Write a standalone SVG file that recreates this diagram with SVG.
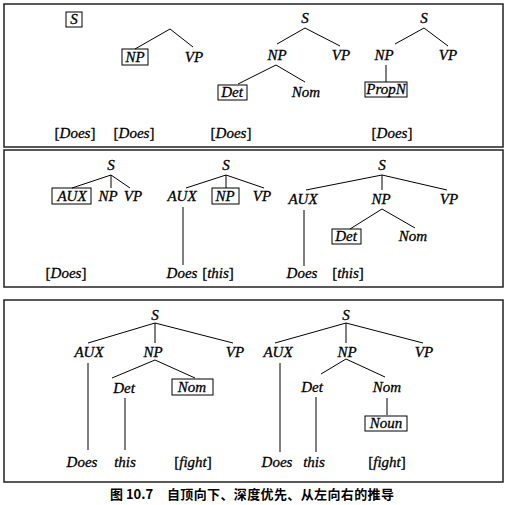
<svg xmlns="http://www.w3.org/2000/svg" width="509" height="505" viewBox="0 0 509 505">
<style>
.t{font-family:"Liberation Serif","Times New Roman",serif;font-style:italic;font-size:15px;fill:#000;stroke:#000;stroke-width:0.3;text-anchor:middle}
.r{font-style:normal}
.b{fill:none;stroke:#000;stroke-width:1}
.p{fill:none;stroke:#222;stroke-width:1.5}
.c line{stroke:#000;stroke-width:1}
.cap{font-family:"Noto Sans CJK SC","Noto Sans CJK TC",sans-serif;font-size:13px;font-weight:bold;fill:#000}
</style>
<rect width="509" height="505" fill="#fff"/>
<g id="panels">
<rect class="p" x="4" y="4" width="499" height="143"/>
<rect class="p" x="4" y="150" width="499" height="137"/>
<rect class="p" x="4" y="300" width="499" height="182"/>
</g>
<g id="connectors" class="c">
<line x1="170" y1="29" x2="135" y2="49"/><line x1="170" y1="29" x2="193" y2="47"/>
<line x1="305" y1="28" x2="277" y2="44"/><line x1="305" y1="28" x2="340" y2="46"/>
<line x1="276" y1="65" x2="238" y2="84"/><line x1="276" y1="65" x2="305" y2="82"/>
<line x1="424" y1="28" x2="395" y2="44"/><line x1="424" y1="28" x2="448" y2="46"/>
<line x1="386" y1="65" x2="386" y2="82"/>
<line x1="111" y1="175" x2="72" y2="188"/><line x1="111" y1="175" x2="111" y2="188"/><line x1="111" y1="175" x2="130" y2="188"/>
<line x1="226" y1="175" x2="186" y2="188"/><line x1="226" y1="175" x2="226" y2="188"/><line x1="226" y1="175" x2="264" y2="188"/>
<line x1="183" y1="207" x2="183" y2="265"/>
<line x1="382" y1="175" x2="306" y2="190"/><line x1="382" y1="175" x2="382" y2="190"/><line x1="382" y1="175" x2="447" y2="190"/>
<line x1="382" y1="209" x2="350" y2="229"/><line x1="382" y1="209" x2="415" y2="228"/>
<line x1="304" y1="210" x2="304" y2="266"/>
<line x1="155" y1="323" x2="88" y2="343"/><line x1="155" y1="323" x2="155" y2="343"/><line x1="155" y1="323" x2="233" y2="343"/>
<line x1="155" y1="360" x2="112" y2="378"/><line x1="155" y1="360" x2="195" y2="378"/>
<line x1="88" y1="363" x2="88" y2="450"/><line x1="125" y1="398" x2="125" y2="450"/>
<line x1="346" y1="323" x2="275" y2="343"/><line x1="346" y1="323" x2="346" y2="343"/><line x1="346" y1="323" x2="423" y2="343"/>
<line x1="346" y1="359" x2="321" y2="374"/><line x1="346" y1="359" x2="385" y2="377"/>
<line x1="387" y1="398" x2="387" y2="415"/>
<line x1="280" y1="363" x2="280" y2="452"/><line x1="316" y1="397" x2="316" y2="452"/>
</g>
<g id="p1-s"><rect class="b" x="66" y="12" width="16" height="15"/><text class="t" x="74" y="24">S</text></g>
<g id="p1-does1"><text class="t" x="75" y="138"><tspan class="r">[</tspan>Does<tspan class="r">]</tspan></text></g>
<g id="p1-np1"><rect class="b" x="122" y="49" width="26" height="16"/><text class="t" x="135" y="62">NP</text></g>
<g id="p1-vp1"><text class="t" x="194" y="62">VP</text></g>
<g id="p1-does2"><text class="t" x="134" y="138"><tspan class="r">[</tspan>Does<tspan class="r">]</tspan></text></g>
<g id="p1-s3"><text class="t" x="305" y="23">S</text></g>
<g id="p1-np3"><text class="t" x="277" y="60">NP</text></g>
<g id="p1-vp3"><text class="t" x="341" y="60">VP</text></g>
<g id="p1-det3"><rect class="b" x="218" y="85" width="29" height="15"/><text class="t" x="232" y="97">Det</text></g>
<g id="p1-nom3"><text class="t" x="306" y="97">Nom</text></g>
<g id="p1-does3"><text class="t" x="231" y="138"><tspan class="r">[</tspan>Does<tspan class="r">]</tspan></text></g>
<g id="p1-s4"><text class="t" x="424" y="23">S</text></g>
<g id="p1-np4"><text class="t" x="384" y="60">NP</text></g>
<g id="p1-vp4"><text class="t" x="448" y="60">VP</text></g>
<g id="p1-propn4"><rect class="b" x="365" y="82" width="42" height="15"/><text class="t" x="386" y="94">PropN</text></g>
<g id="p1-does4"><text class="t" x="392" y="138"><tspan class="r">[</tspan>Does<tspan class="r">]</tspan></text></g>
<g id="p2-s1"><text class="t" x="111" y="170">S</text></g>
<g id="p2-aux1"><rect class="b" x="52" y="188" width="39" height="16"/><text class="t" x="72" y="201">AUX</text></g>
<g id="p2-np1"><text class="t" x="108" y="201">NP</text></g>
<g id="p2-vp1"><text class="t" x="133" y="201">VP</text></g>
<g id="p2-does1"><text class="t" x="66" y="278"><tspan class="r">[</tspan>Does<tspan class="r">]</tspan></text></g>
<g id="p2-s2"><text class="t" x="226" y="170">S</text></g>
<g id="p2-aux2"><text class="t" x="182" y="201">AUX</text></g>
<g id="p2-np2"><rect class="b" x="212" y="188" width="27" height="16"/><text class="t" x="225" y="201">NP</text></g>
<g id="p2-vp2"><text class="t" x="262" y="201">VP</text></g>
<g id="p2-does2"><text class="t" x="182" y="278">Does</text></g>
<g id="p2-this2"><text class="t" x="218" y="278"><tspan class="r">[</tspan>this<tspan class="r">]</tspan></text></g>
<g id="p2-s3"><text class="t" x="382" y="170">S</text></g>
<g id="p2-aux3"><text class="t" x="303" y="204">AUX</text></g>
<g id="p2-np3"><text class="t" x="381" y="204">NP</text></g>
<g id="p2-vp3"><text class="t" x="449" y="204">VP</text></g>
<g id="p2-det3"><rect class="b" x="332" y="229" width="29" height="15"/><text class="t" x="346" y="241">Det</text></g>
<g id="p2-nom3"><text class="t" x="413" y="241">Nom</text></g>
<g id="p2-does3"><text class="t" x="302" y="278">Does</text></g>
<g id="p2-this3"><text class="t" x="348" y="278"><tspan class="r">[</tspan>this<tspan class="r">]</tspan></text></g>
<g id="p3-s1"><text class="t" x="155" y="320">S</text></g>
<g id="p3-aux1"><text class="t" x="89" y="357">AUX</text></g>
<g id="p3-np1"><text class="t" x="153" y="357">NP</text></g>
<g id="p3-vp1"><text class="t" x="235" y="357">VP</text></g>
<g id="p3-det1"><text class="t" x="124" y="393">Det</text></g>
<g id="p3-nom1"><rect class="b" x="172" y="379" width="41" height="16"/><text class="t" x="192" y="392">Nom</text></g>
<g id="p3-does1"><text class="t" x="82" y="467">Does</text></g>
<g id="p3-this1"><text class="t" x="125" y="467">this</text></g>
<g id="p3-fight1"><text class="t" x="193" y="467"><tspan class="r">[</tspan>fight<tspan class="r">]</tspan></text></g>
<g id="p3-s2"><text class="t" x="346" y="320">S</text></g>
<g id="p3-aux2"><text class="t" x="278" y="357">AUX</text></g>
<g id="p3-np2"><text class="t" x="347" y="357">NP</text></g>
<g id="p3-vp2"><text class="t" x="424" y="357">VP</text></g>
<g id="p3-det2"><text class="t" x="312" y="392">Det</text></g>
<g id="p3-nom2"><text class="t" x="387" y="392">Nom</text></g>
<g id="p3-noun2"><rect class="b" x="365" y="416" width="42" height="15"/><text class="t" x="386" y="428">Noun</text></g>
<g id="p3-does2"><text class="t" x="277" y="467">Does</text></g>
<g id="p3-this2"><text class="t" x="314" y="467">this</text></g>
<g id="p3-fight2"><text class="t" x="387" y="467"><tspan class="r">[</tspan>fight<tspan class="r">]</tspan></text></g>
<g id="caption">
<text class="cap" x="110" y="499">图 10.7</text>
<text class="cap" x="167" y="499" textLength="227">自顶向下、深度优先、从左向右的推导</text>
</g>
</svg>
